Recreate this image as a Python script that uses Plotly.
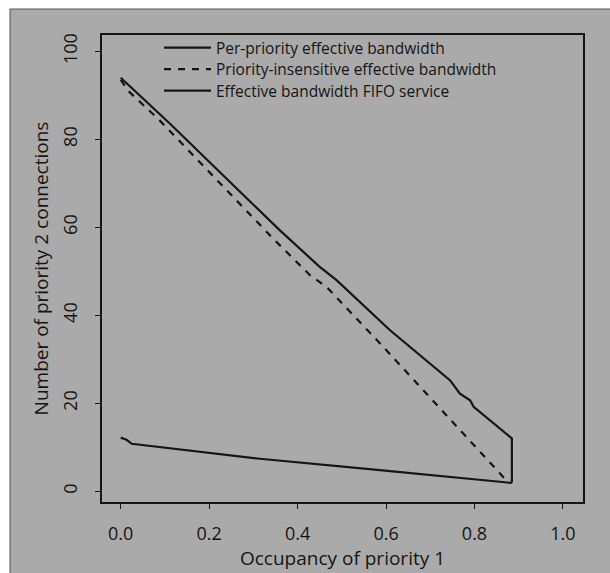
import plotly.graph_objects as go

# Data
per_priority_x = [0.0, 0.111, 0.25, 0.36, 0.45, 0.466, 0.488, 0.609, 0.745, 0.767, 0.79, 0.798, 0.8845, 0.8845]
per_priority_y = [94.0, 83.6, 70.0, 59.3, 51.0, 49.8, 48.0, 36.6, 25.2, 22.2, 20.7, 19.2, 12.0, 2.0]

insensitive_x = [0.0, 0.017, 0.088, 0.345, 0.428, 0.466, 0.594, 0.872]
insensitive_y = [93.5, 91.0, 84.3, 57.4, 49.1, 46.4, 32.8, 2.5]

fifo_x = [0.0, 0.013, 0.025, 0.315, 0.586, 0.82, 0.8845]
fifo_y = [12.2, 11.7, 10.8, 7.4, 4.8, 2.5, 1.9]

x_ticks = [0.0, 0.2, 0.4, 0.6, 0.8, 1.0]
x_tick_labels = ["0.0", "0.2", "0.4", "0.6", "0.8", "1.0"]
y_ticks = [0, 20, 40, 60, 80, 100]
y_tick_labels = ["0", "20", "40", "60", "80", "100"]

series_names = ["Per-priority effective bandwidth",
                "Priority-insensitive effective bandwidth",
                "Effective bandwidth FIFO service"]

FONT = "Open Sans"
INK = "#151515"

fig = go.Figure()
fig.add_trace(go.Scatter(x=per_priority_x, y=per_priority_y, mode="lines",
                         name=series_names[0], legend="legend",
                         line=dict(color=INK, width=2.2)))
fig.add_trace(go.Scatter(x=insensitive_x, y=insensitive_y, mode="lines",
                         name=series_names[1], legend="legend2",
                         line=dict(color=INK, width=2.2, dash="7px,7px")))
fig.add_trace(go.Scatter(x=fifo_x, y=fifo_y, mode="lines",
                         name=series_names[2], legend="legend3",
                         line=dict(color=INK, width=2.2)))

L, R, T, B = 102, 27, 35, 71
W, H = 610, 573
pw, ph = W - L - R, H - T - B

def px_to_paper_x(px):
    return (px - L) / pw

def px_to_paper_y(py):
    return (H - B - py) / ph

fig.add_shape(type="rect", xref="paper", yref="paper",
              x0=px_to_paper_x(10), x1=px_to_paper_x(615),
              y0=px_to_paper_y(580), y1=px_to_paper_y(9),
              fillcolor="#aaaaaa", line=dict(color="#555", width=1), layer="below")

def legend_at(row_y):
    return dict(x=px_to_paper_x(159), y=px_to_paper_y(row_y), xanchor="left", yanchor="middle",
                bgcolor="rgba(0,0,0,0)", borderwidth=0,
                font=dict(family=FONT, size=15.5, color=INK),
                itemwidth=47)

fig.update_layout(
    width=W, height=H,
    margin=dict(l=L, r=R, t=T, b=B),
    paper_bgcolor="white",
    plot_bgcolor="#ededed",
    font=dict(family=FONT, color=INK, size=18),
    showlegend=True,
    legend=legend_at(48),
    legend2=legend_at(69.5),
    legend3=legend_at(91),
    xaxis=dict(range=[-0.0423, 1.0453], tickvals=x_ticks, ticktext=x_tick_labels,
               showgrid=False, zeroline=False, showline=True, mirror=True,
               linecolor=INK, linewidth=1.5, ticks="outside", ticklen=5,
               tickcolor=INK, tickwidth=1, ticklabelstandoff=10,
               title=dict(text="Occupancy of priority 1", standoff=2,
                          font=dict(size=19))),
    yaxis=dict(range=[-2.43, 103.7], tickvals=y_ticks, ticktext=y_tick_labels,
               showgrid=False, zeroline=False, showline=True, mirror=True,
               linecolor=INK, linewidth=1.5, ticks="outside", ticklen=5,
               tickcolor=INK, tickwidth=1, tickangle=-90, ticklabelstandoff=11,
               title=dict(text="Number of priority 2 connections", standoff=4,
                          font=dict(size=19))),
)

fig.write_html("out.html")
